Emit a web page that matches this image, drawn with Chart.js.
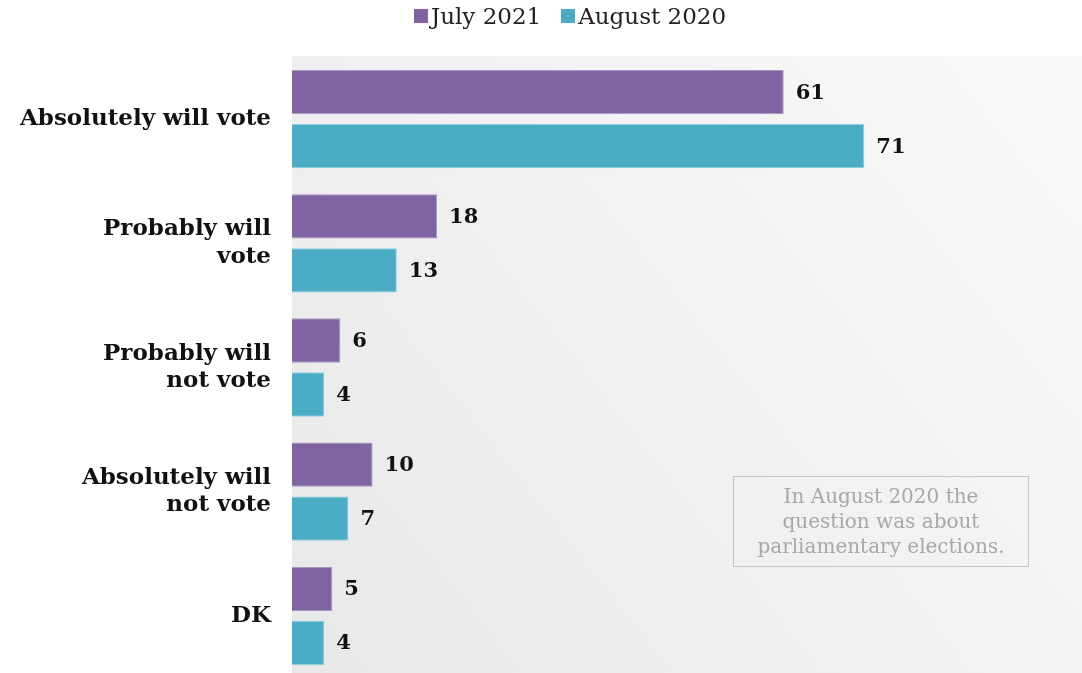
<!DOCTYPE html>
<html>
<head>
<meta charset="utf-8">
<script src="https://cdn.jsdelivr.net/npm/chart.js@4/dist/chart.umd.min.js"></script>
<style>
  html, body { margin: 0; padding: 0; background: #fff; overflow: hidden; }
  #wrap { position: relative; width: 1082px; height: 673px; overflow: hidden; }
  #voteChart { display: block; }
  #legend {
    position: absolute; top: 0; left: 0; width: 1140px; height: 31px;
    display: flex; justify-content: center; align-items: center;
    font-family: "DejaVu Serif", serif; font-size: 23px; color: #222;
  }
  .legend-item { display: flex; align-items: center; margin: 0 10px; }
  .legend-color { width: 14px; height: 14px; margin-right: 3px; display: inline-block; }
  #note {
    position: absolute; left: 733px; top: 476px; width: 296px; height: 91px;
    border: 1.5px solid #c4c4c4; box-sizing: border-box;
    display: flex; align-items: center; justify-content: center; text-align: center;
    font-family: "DejaVu Serif", serif; font-size: 20px; line-height: 25px; color: #a8a8a8;
  }
</style>
</head>
<body>
<div id="wrap">
  <canvas id="voteChart" width="1082" height="678"></canvas>
  <div id="legend"></div>
  <div id="note">In August 2020 the<br>question was about<br>parliamentary elections.</div>
</div>
<script>
const categories = [
  "Absolutely will vote",
  ["Probably will", "vote"],
  ["Probably will", "not vote"],
  ["Absolutely will", "not vote"],
  "DK"
];
const seriesNames = ["July 2021", "August 2020"];
const july2021 = [61, 18, 6, 10, 5];
const august2020 = [71, 13, 4, 7, 4];
const colors = ["#8064a2", "#4bacc6"];

document.addEventListener("DOMContentLoaded", () => {
  const ctx = document.getElementById("voteChart").getContext("2d");

  // gradient backdrop of the plot area
  const plotBackground = {
    id: "plotBackground",
    beforeDraw(chart) {
      const { ctx, chartArea: a } = chart;
      const g = ctx.createLinearGradient(a.left, a.bottom, a.right, a.top);
      g.addColorStop(0, "#e8e8e8");
      g.addColorStop(1, "#fafafa");
      ctx.save();
      ctx.fillStyle = g;
      ctx.fillRect(a.left, a.top - 1, a.right - a.left, a.bottom - a.top + 1);
      ctx.restore();
    }
  };

  // value labels right of each bar
  const valueLabels = {
    id: "valueLabels",
    afterDatasetsDraw(chart) {
      const { ctx } = chart;
      ctx.save();
      ctx.font = "bold 21px 'DejaVu Serif', serif";
      ctx.fillStyle = "#111";
      ctx.textBaseline = "middle";
      chart.data.datasets.forEach((ds, i) => {
        chart.getDatasetMeta(i).data.forEach((bar, j) => {
          ctx.fillText(ds.data[j], bar.x + 12, bar.y + 1);
        });
      });
      ctx.restore();
    }
  };

  const data = {
    labels: categories,
    datasets: [
      { label: seriesNames[0], data: july2021, backgroundColor: colors[0], borderColor: "#a994c4", borderWidth: 1 },
      { label: seriesNames[1], data: august2020, backgroundColor: colors[1], borderColor: "#8ccfe0", borderWidth: 1 }
    ]
  };

  new Chart(ctx, {
    type: "bar",
    data: data,
    plugins: [plotBackground, valueLabels],
    options: {
      indexAxis: "y",
      responsive: false,
      animation: false,
      categoryPercentage: 0.87,
      barPercentage: 0.82,
      layout: { padding: { top: 57, right: 0, bottom: 0, left: 0 } },
      plugins: {
        legend: { display: false },
        tooltip: { enabled: false }
      },
      scales: {
        x: { display: false, min: 0, max: 98 },
        y: {
          afterFit(scale) {
            scale.width = 292;
            scale.paddingTop = 0;
            scale.paddingBottom = 0;
          },
          grid: { display: false, drawTicks: false },
          border: { display: false },
          ticks: {
            padding: 21,
            color: "#111",
            font: { family: "'DejaVu Serif', serif", size: 23, weight: "bold", lineHeight: 1.2 }
          }
        }
      }
    }
  });

  document.getElementById("legend").innerHTML = data.datasets
    .map(ds => `<div class="legend-item"><span class="legend-color" style="background-color:${ds.backgroundColor}"></span>${ds.label}</div>`)
    .join("");
});
</script>
</body>
</html>
